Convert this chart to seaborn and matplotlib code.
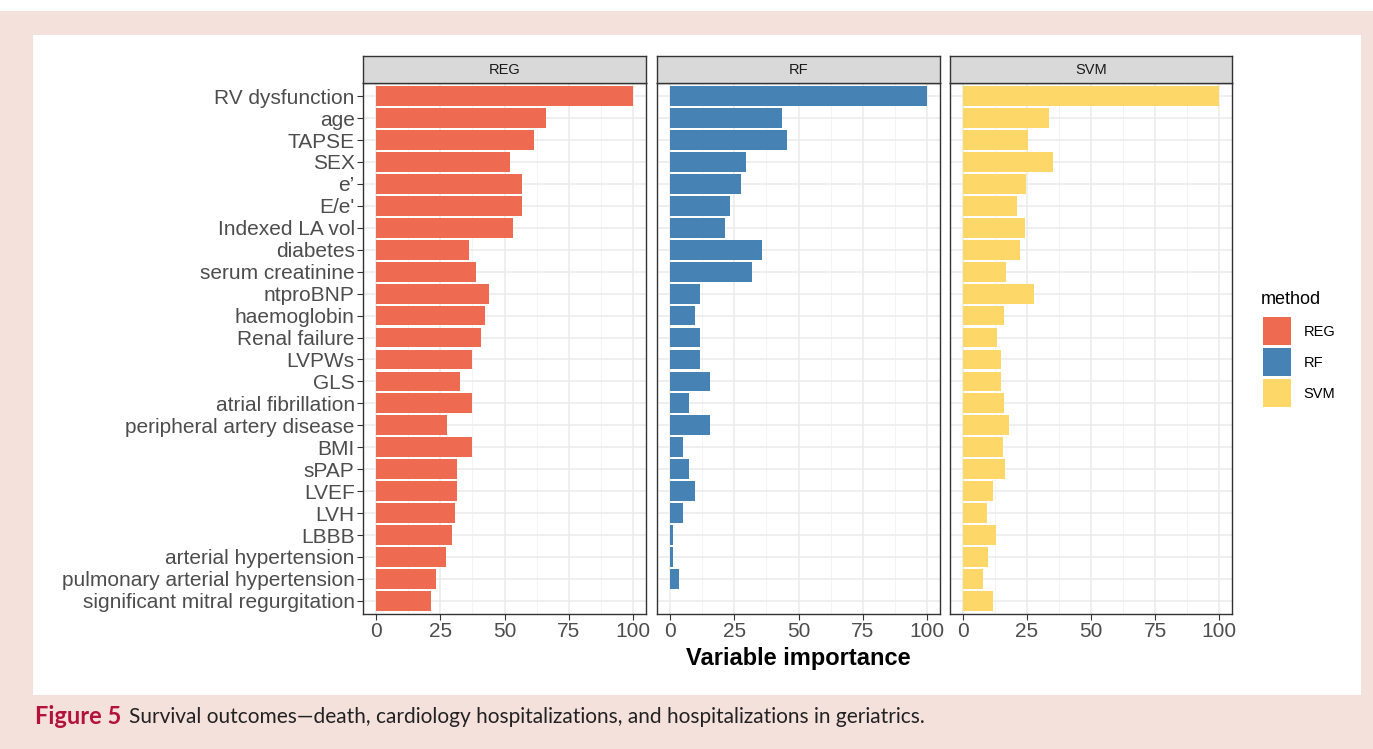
import matplotlib
matplotlib.use("Agg")
import matplotlib.pyplot as plt
from matplotlib.patches import Rectangle, Patch
from matplotlib.ticker import MultipleLocator
import seaborn as sns
import pandas as pd

variables = ["RV dysfunction", "age", "TAPSE", "SEX", "e\u2019", "E/e'", "Indexed LA vol",
             "diabetes", "serum creatinine", "ntproBNP", "haemoglobin", "Renal failure",
             "LVPWs", "GLS", "atrial fibrillation", "peripheral artery disease", "BMI",
             "sPAP", "LVEF", "LVH", "LBBB", "arterial hypertension",
             "pulmonary arterial hypertension", "significant mitral regurgitation"]

reg_values = [100, 66.1, 61.5, 52.2, 56.9, 56.9, 53.4, 36.3, 38.9, 44.0, 42.5, 40.9,
              37.3, 32.6, 37.3, 27.5, 37.3, 31.7, 31.7, 30.7, 29.7, 27.1, 23.4, 21.4]
rf_values = [100, 43.7, 45.6, 29.6, 27.6, 23.5, 21.6, 35.9, 31.9, 11.7, 9.6, 11.7,
             11.7, 15.7, 7.5, 15.7, 5.3, 7.5, 9.6, 5.3, 1.4, 1.4, 3.4, 0.0]
svm_values = [100, 33.5, 25.3, 35.1, 24.8, 21.2, 24.3, 22.2, 17.0, 27.9, 16.0, 13.4,
              14.9, 14.9, 16.0, 18.1, 15.5, 16.5, 11.8, 9.4, 12.9, 9.9, 7.8, 11.8]

methods = ["REG", "RF", "SVM"]
colors = ["#EE6A50", "#4682B4", "#FDD868"]
x_ticks = [0, 25, 50, 75, 100]

df = pd.concat([
    pd.DataFrame({"variable": variables, "importance": vals, "method": m})
    for m, vals in zip(methods, [reg_values, rf_values, svm_values])
], ignore_index=True)

W, H = 1373, 749
fig = plt.figure(figsize=(W / 100, H / 100), dpi=100)
fig.patch.set_facecolor("white")

# background layers
pink = "#F5E1DC"
fig.patches.append(Rectangle((0, 0), 1, (H - 11) / H, transform=fig.transFigure,
                             facecolor=pink, edgecolor="none", zorder=-3))
fig.patches.append(Rectangle((33 / W, (H - 695) / H), (1361 - 33) / W, (695 - 35) / H,
                             transform=fig.transFigure, facecolor="white",
                             edgecolor="none", zorder=-2))

def px_axes(x0, y0, x1, y1):
    return fig.add_axes([x0 / W, (H - y1) / H, (x1 - x0) / W, (y1 - y0) / H])

panels = [(363, 646), (657, 940), (950, 1232)]
top, bottom, strip_top = 83, 614, 56
label_font = "Liberation Sans"

for i, (m, c, (x0, x1)) in enumerate(zip(methods, colors, panels)):
    ax = px_axes(x0, top, x1, bottom)
    sub = df[df["method"] == m]
    sns.barplot(data=sub, x="importance", y="variable", order=variables,
                color=c, width=0.9, saturation=1, ax=ax, orient="h", zorder=3,
                edgecolor="none")
    ax.set_xlim(-5, 105)
    ax.set_ylim(len(variables) - 0.4, -0.6)
    ax.set_facecolor("white")
    ax.xaxis.set_major_locator(MultipleLocator(25))
    ax.xaxis.set_minor_locator(MultipleLocator(12.5))
    ax.grid(True, which="major", axis="both", color="#EBEBEB", linewidth=1.1, zorder=0)
    ax.grid(True, which="minor", axis="x", color="#F2F2F2", linewidth=0.6, zorder=0)
    ax.set_axisbelow(True)
    for s in ax.spines.values():
        s.set_color("#333333")
        s.set_linewidth(1.0)
    ax.set_xticks(x_ticks)
    ax.set_xticklabels([str(t) for t in x_ticks], fontsize=15, color="#4D4D4D",
                       fontfamily=label_font)
    ax.tick_params(axis="x", which="major", length=4, color="#333333", pad=2)
    ax.tick_params(axis="x", which="minor", length=0)
    ax.set_xlabel("")
    ax.set_ylabel("")
    if i == 0:
        ax.set_yticks(range(len(variables)))
        ax.set_yticklabels(variables, fontsize=15, color="#4D4D4D", fontfamily=label_font)
        ax.tick_params(axis="y", length=4, color="#333333", pad=2)
    else:
        ax.set_yticks(range(len(variables)))
        ax.set_yticklabels([])
        ax.tick_params(axis="y", length=0)
    # facet strip
    sax = px_axes(x0, strip_top, x1, top)
    sax.set_facecolor("#D9D9D9")
    sax.set_xticks([])
    sax.set_yticks([])
    for s in sax.spines.values():
        s.set_color("#333333")
        s.set_linewidth(1.0)
    sax.text(0.5, 0.5, m, ha="center", va="center", fontsize=10.5, color="#1A1A1A",
             fontfamily=label_font, transform=sax.transAxes)

fig.text(798 / W, (H - 658) / H, "Variable importance", ha="center", va="center",
         fontsize=17, fontweight="bold", color="black", fontfamily=label_font)

# legend
fig.text(1261 / W, (H - 299) / H, "method", ha="left", va="center", fontsize=13,
         color="black", fontfamily=label_font)
handles = [Patch(facecolor=c, edgecolor="none") for c in colors]
leg = fig.legend(handles, methods, loc="upper left",
                 bbox_to_anchor=(1263 / W, (H - 317) / H), frameon=False,
                 prop={"family": label_font, "size": 10.5}, handlelength=1.95,
                 handleheight=2.6, handletextpad=0.85, labelspacing=0.2,
                 borderaxespad=0, borderpad=0)

# caption
cap_y = (H - 717) / H
t1 = fig.text(35 / W, cap_y, "Figure 5", ha="left", va="center", fontsize=17,
              fontweight="bold", color="#B3123C", fontfamily="Lato")
fig.canvas.draw()
bb = t1.get_window_extent()
fig.text((bb.x1 + 8) / W, cap_y,
         "Survival outcomes\u2014death, cardiology hospitalizations, and hospitalizations in geriatrics.",
         ha="left", va="center", fontsize=15, color="#222222", fontfamily="Lato")

fig.savefig("out.png", dpi=100, facecolor=fig.get_facecolor())
